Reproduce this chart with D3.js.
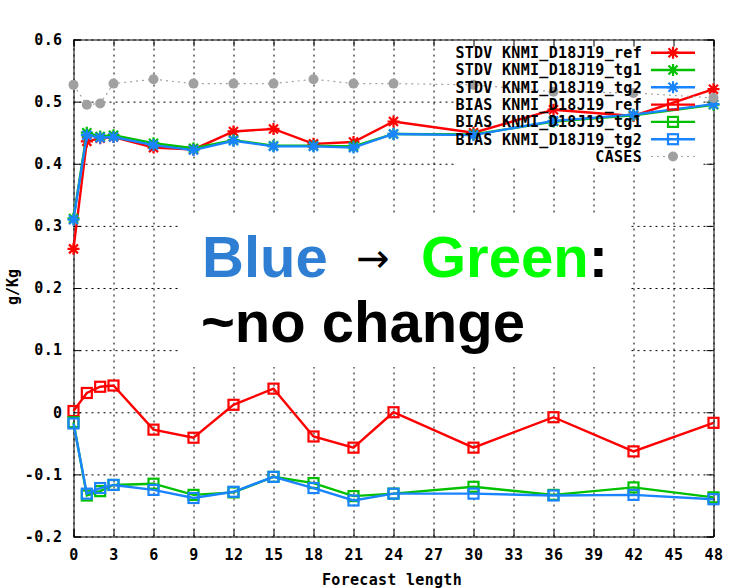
<!DOCTYPE html>
<html>
<head>
<meta charset="utf-8">
<script src="https://cdn.jsdelivr.net/npm/d3@7"></script>
<style>
  body { margin: 0; background: #fff; }
  svg { display: block; }
  .mono { font-family: "DejaVu Sans Mono", monospace; font-weight: bold; font-size: 15px; }
</style>
</head>
<body>
<div id="chart"></div>
<script>
// forecast hours and values
var hours = [0, 1, 2, 3, 6, 9, 12, 15, 18, 21, 24, 30, 36, 42, 48];
var xTicks = d3.range(0, 49, 3);
var yTicks = [-0.2, -0.1, 0, 0.1, 0.2, 0.3, 0.4, 0.5, 0.6];

var stdvRef = [0.263, 0.436, 0.441, 0.443, 0.426, 0.423, 0.452, 0.456, 0.432, 0.435, 0.468, 0.450, 0.487, 0.477, 0.520];
var stdvTg1 = [0.312, 0.450, 0.444, 0.446, 0.433, 0.425, 0.438, 0.429, 0.429, 0.428, 0.448, 0.447, 0.468, 0.478, 0.495];
var stdvTg2 = [0.310, 0.446, 0.442, 0.443, 0.430, 0.422, 0.437, 0.428, 0.428, 0.426, 0.448, 0.446, 0.469, 0.479, 0.496];
var biasRef = [0.002, 0.031, 0.041, 0.043, -0.028, -0.041, 0.012, 0.038, -0.039, -0.057, 0.000, -0.057, -0.008, -0.063, -0.017];
var biasTg1 = [-0.016, -0.134, -0.127, -0.117, -0.115, -0.133, -0.129, -0.104, -0.114, -0.135, -0.131, -0.120, -0.133, -0.121, -0.137];
var biasTg2 = [-0.018, -0.131, -0.122, -0.117, -0.125, -0.138, -0.128, -0.104, -0.122, -0.142, -0.131, -0.131, -0.134, -0.133, -0.140];
var cases = [0.527, 0.495, 0.497, 0.529, 0.536, 0.529, 0.529, 0.529, 0.536, 0.529, 0.529, 0.527, 0.516, 0.514, 0.506];

var series = [
  { name: "STDV KNMI_D18J19_ref", values: stdvRef, color: "#ff0000", mark: "star" },
  { name: "STDV KNMI_D18J19_tg1", values: stdvTg1, color: "#00c000", mark: "star" },
  { name: "STDV KNMI_D18J19_tg2", values: stdvTg2, color: "#1a84ff", mark: "star" },
  { name: "BIAS KNMI_D18J19_ref", values: biasRef, color: "#ff0000", mark: "square" },
  { name: "BIAS KNMI_D18J19_tg1", values: biasTg1, color: "#00c000", mark: "square" },
  { name: "BIAS KNMI_D18J19_tg2", values: biasTg2, color: "#1a84ff", mark: "square" },
  { name: "CASES", values: cases, color: "#a0a0a0", mark: "dot" }
];

var width = 733, height = 588;
var plotL = 73.5, plotR = 713.5, plotT = 39.5, plotB = 536.5;

var svg = d3.select("#chart").append("svg")
  .attr("width", width)
  .attr("height", height);

var x = d3.scaleLinear().domain([0, 48]).range([plotL, plotR]);
var y = d3.scaleLinear().domain([-0.2, 0.6]).range([plotB, plotT]);

// grid
svg.append("g")
  .attr("transform", "translate(0," + plotB + ")")
  .call(d3.axisBottom(x).tickValues(xTicks).tickSize(-(plotB - plotT)).tickFormat(""))
  .call(g => g.select(".domain").remove())
  .selectAll("line").attr("stroke", "#a0a0a0").attr("stroke-dasharray", "2,4");
svg.append("g")
  .attr("transform", "translate(" + plotL + ",0)")
  .call(d3.axisLeft(y).tickValues(yTicks).tickSize(-(plotR - plotL)).tickFormat(""))
  .call(g => g.select(".domain").remove())
  .selectAll("line").attr("stroke", "#a0a0a0").attr("stroke-dasharray", "2,4");

// the key and the note hide the grid behind them
svg.append("rect").attr("x", 457).attr("y", plotT + 1).attr("width", 246).attr("height", 125).attr("fill", "#fff");
svg.append("rect").attr("x", 178).attr("y", 213).attr("width", 450).attr("height", 154).attr("fill", "#fff");

// ticks and border
function fmt(v) { return v === 0 ? "0" : v.toFixed(1); }
svg.append("g").attr("class", "mono")
  .attr("transform", "translate(0," + plotB + ")")
  .call(d3.axisBottom(x).tickValues(xTicks).tickSize(-7).tickPadding(13).tickFormat(d3.format("d")));
svg.append("g").attr("class", "mono")
  .attr("transform", "translate(" + plotL + ",0)")
  .call(d3.axisLeft(y).tickValues(yTicks).tickSize(-7).tickPadding(11).tickFormat(fmt));
svg.append("g").attr("transform", "translate(0," + plotT + ")")
  .call(d3.axisTop(x).tickValues(xTicks).tickSize(-7).tickFormat(""));
svg.append("g").attr("transform", "translate(" + plotR + ",0)")
  .call(d3.axisRight(y).tickValues(yTicks).tickSize(-7).tickFormat(""));
svg.selectAll(".tick text").attr("fill", "#000").style("font-size", "15px").style("letter-spacing", "0.4px");
svg.selectAll(".domain, .tick line").attr("stroke", "#000");

// marks
function drawMark(g, type, color, cx, cy) {
  if (type === "star") {
    var r = 6, d = 4.5;
    g.append("path")
      .attr("d", "M" + (cx - r) + "," + cy + "h" + 2 * r + "M" + cx + "," + (cy - r) + "v" + 2 * r +
        "M" + (cx - d) + "," + (cy - d) + "l" + 2 * d + "," + 2 * d +
        "M" + (cx - d) + "," + (cy + d) + "l" + 2 * d + "," + (-2 * d))
      .attr("stroke", color).attr("stroke-width", 2.2).attr("fill", "none");
  } else if (type === "square") {
    g.append("rect").attr("x", cx - 5).attr("y", cy - 5).attr("width", 10).attr("height", 10)
      .attr("stroke", color).attr("stroke-width", 2.2).attr("fill", "none");
  } else {
    g.append("circle").attr("cx", cx).attr("cy", cy).attr("r", 5).attr("fill", color);
  }
}

var line = d3.line().x((d, i) => x(hours[i])).y(d => y(d));
series.forEach(function(s) {
  var g = svg.append("g");
  g.append("path").datum(s.values)
    .attr("d", line)
    .attr("fill", "none")
    .attr("stroke", s.color)
    .attr("stroke-width", s.mark === "dot" ? 1.2 : 2.4)
    .attr("stroke-dasharray", s.mark === "dot" ? "2,4" : null);
  s.values.forEach(function(v, i) { drawMark(g, s.mark, s.color, x(hours[i]), y(v)); });
});

// key
var key = svg.append("g").attr("class", "mono");
series.forEach(function(s, i) {
  var ky = 52.7 + i * 17.3;
  key.append("text").attr("x", 642).attr("y", ky).attr("dy", "0.36em")
    .attr("text-anchor", "end").style("letter-spacing", "0.3px").text(s.name);
  key.append("line").attr("x1", 651).attr("x2", 695).attr("y1", ky).attr("y2", ky)
    .attr("stroke", s.color).attr("stroke-width", s.mark === "dot" ? 1.2 : 2.4)
    .attr("stroke-dasharray", s.mark === "dot" ? "2,4" : null);
  drawMark(key, s.mark, s.color, 673, ky);
});

// axis titles
svg.append("text").attr("class", "mono").attr("x", 392).attr("y", 585)
  .attr("text-anchor", "middle").style("letter-spacing", "0.3px").text("Forecast length");
svg.append("text").attr("class", "mono")
  .attr("transform", "translate(18,287) rotate(-90)")
  .attr("text-anchor", "middle").text("g/Kg");

// note
var note = svg.append("g").style("font-family", "'Liberation Sans', Arial, sans-serif");
note.append("text").attr("x", 202).attr("y", 277).style("font-size", "58px").style("font-weight", "bold")
  .attr("fill", "#2e7fd4").text("Blue");
note.append("text").attr("x", 373).attr("y", 272).attr("text-anchor", "middle")
  .style("font-family", "'DejaVu Sans', sans-serif").style("font-size", "40px").attr("fill", "#000").text("→");
var gr = note.append("text").attr("x", 421).attr("y", 277).style("font-size", "58px").style("font-weight", "bold");
gr.append("tspan").attr("fill", "#00ff00").text("Green");
gr.append("tspan").attr("fill", "#000").text(":");
note.append("text").attr("x", 201).attr("y", 342).style("font-size", "58px").style("font-weight", "bold")
  .attr("fill", "#000").text("~no change");
</script>
</body>
</html>
